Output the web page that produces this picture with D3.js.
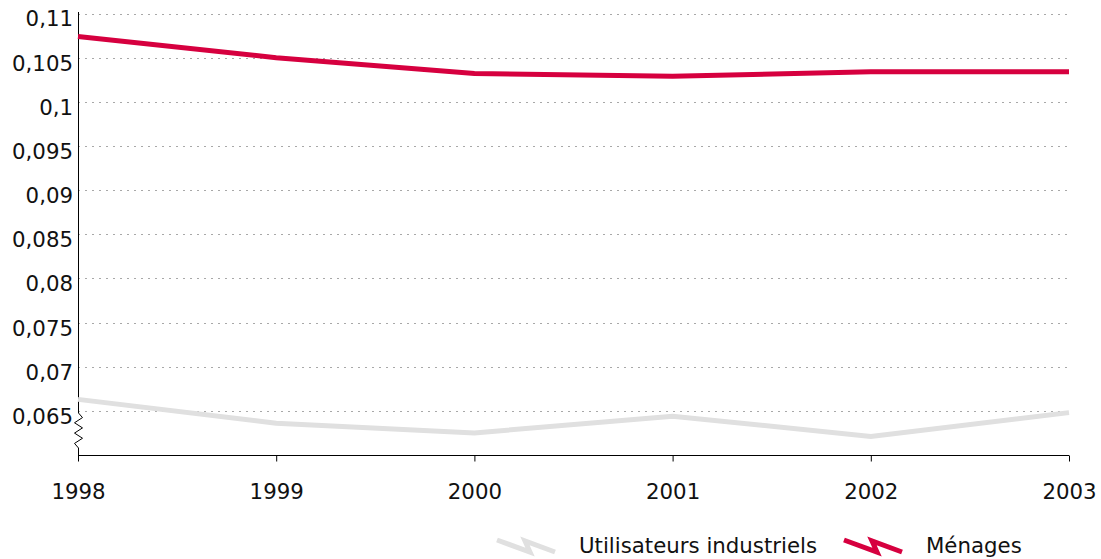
<!DOCTYPE html>
<html><head><meta charset="utf-8">
<script src="https://cdn.jsdelivr.net/npm/d3@7"></script>
<style>body{margin:0;background:#fff}svg{display:block}</style>
</head><body>
<svg id="c" width="1101" height="559"></svg>
<script>
const years = [1998, 1999, 2000, 2001, 2002, 2003];
const industriels = [0.0663, 0.0636, 0.0625, 0.0644, 0.0621, 0.0648];
const menages = [0.1074, 0.1050, 0.1032, 0.1029, 0.1034, 0.1034];
const yTicks = [0.065, 0.07, 0.075, 0.08, 0.085, 0.09, 0.095, 0.1, 0.105, 0.11];
const seriesNames = ["Utilisateurs industriels", "Ménages"];
const colors = ["#e0e0e0", "#d6003f"];

const svg = d3.select("#c");
const font = "Verdana, 'DejaVu Sans', sans-serif";
const fs = 21.3;
const x = d3.scaleLinear().domain([1998, 2003]).range([78, 1069]);
const y = d3.scaleLinear().domain([0.06, 0.11]).range([455, 13.5]);
const fmt = d => String(+d.toFixed(3)).replace(".", ",");

// grid
svg.append("g").selectAll("line").data(yTicks).join("line")
  .attr("x1", 78).attr("x2", 1069)
  .attr("y1", d => Math.round(y(d)) + 0.5).attr("y2", d => Math.round(y(d)) + 0.5)
  .attr("stroke", "#a8a8a8").attr("stroke-width", 1).attr("stroke-dasharray", "2,5");

// y labels
svg.append("g").selectAll("text").data(yTicks).join("text")
  .attr("x", 73).attr("y", d => y(d) + 5.5).attr("dy", "0.35em")
  .attr("text-anchor", "end").attr("font-family", font).attr("font-size", fs).attr("fill", "#111")
  .text(fmt);

// y axis with break
const yb1 = 413, yb2 = 448;
svg.append("line").attr("x1", 78.5).attr("x2", 78.5).attr("y1", 12).attr("y2", yb1).attr("stroke", "#000");
let zz = [[78.5, yb1]];
const n = 6;
for (let i = 1; i <= n; i++) {
  zz.push([i % 2 ? 82.5 : 74.5, yb1 + (yb2 - yb1 - 4) * (i - 0.5) / n + 2]);
}
zz.push([78.5, yb2]);
svg.append("path").attr("d", d3.line()(zz)).attr("fill", "none").attr("stroke", "#000");
svg.append("line").attr("x1", 78.5).attr("x2", 78.5).attr("y1", yb2).attr("y2", 460).attr("stroke", "#000");

// x axis
const xAxis = d3.axisBottom(x).tickValues(years).tickFormat(d3.format("d")).tickSize(6).tickPadding(22);
const gx = svg.append("g").attr("transform", "translate(0,455.5)").call(xAxis);
gx.select(".domain").attr("stroke", "#000").attr("d", "M78,0H1069");
gx.selectAll(".tick line").attr("stroke", "#000");
gx.selectAll("text").attr("font-family", font).attr("font-size", fs).attr("fill", "#111");

// lines
const line = d3.line().x((d, i) => x(years[i])).y(d => y(d));
[industriels, menages].forEach((s, k) => {
  svg.append("path").datum(s).attr("d", line).attr("fill", "none")
    .attr("stroke", colors[k]).attr("stroke-width", 5).attr("stroke-linejoin", "miter");
});

// legend
const legend = [{x: 497, tx: 579}, {x: 844, tx: 926}];
legend.forEach((l, k) => {
  const g = svg.append("g");
  g.append("path").attr("d", `M${l.x},540 L${l.x+33},552 L${l.x+28},541 L${l.x+58},552`)
    .attr("fill", "none").attr("stroke", colors[k]).attr("stroke-width", 5).attr("stroke-linejoin", "miter");
  g.append("text").attr("x", l.tx).attr("y", 546).attr("dy", "0.35em")
    .attr("font-family", font).attr("font-size", fs).attr("fill", "#111").text(seriesNames[k]);
});
</script>
</body></html>
